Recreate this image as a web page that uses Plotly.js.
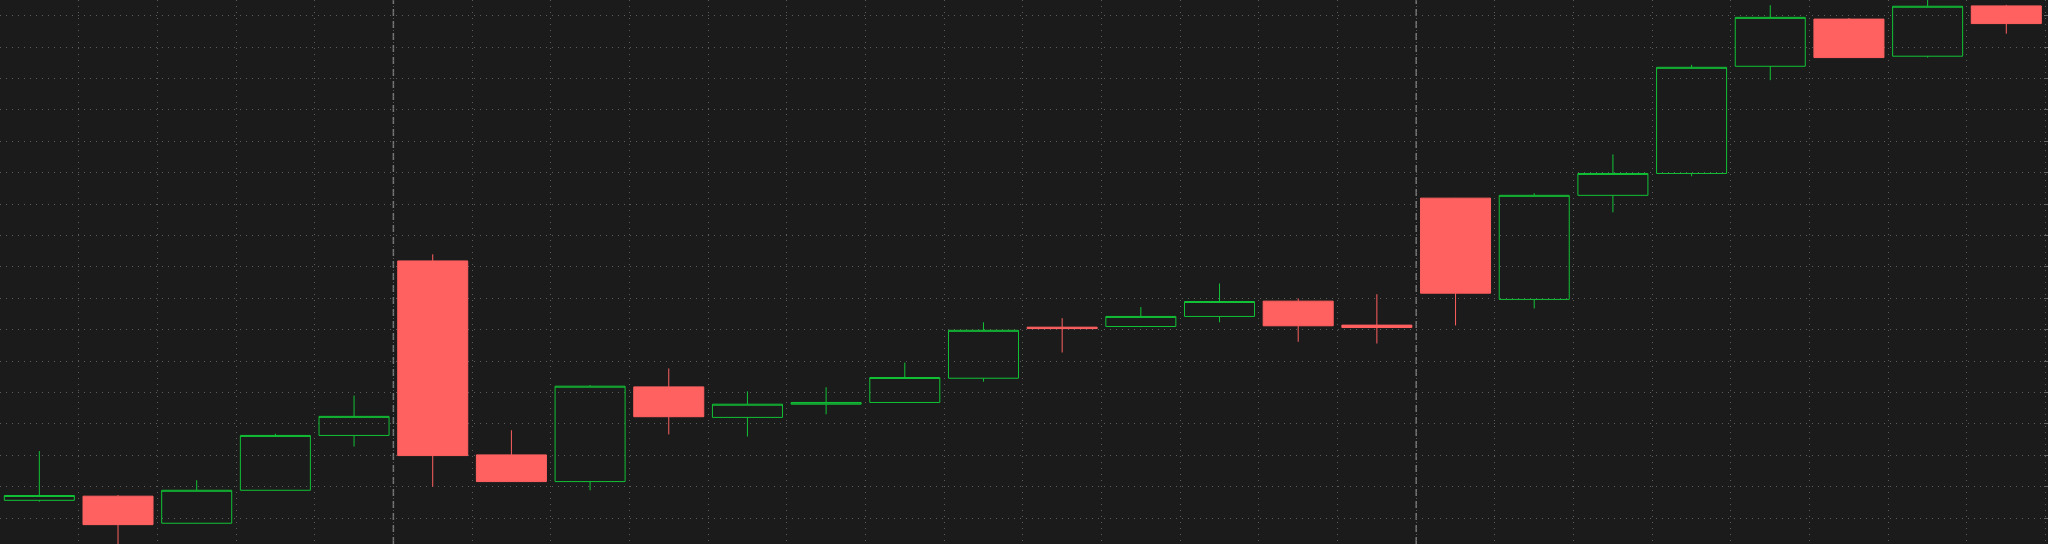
<!DOCTYPE html>
<html>
<head>
<meta charset="utf-8">
<script src="https://cdn.plot.ly/plotly-3.0.1.min.js"></script>
<style>
  html, body { margin: 0; padding: 0; background: #1b1b1b; }
  #chart { width: 2048px; height: 544px; }
</style>
</head>
<body>
<div id="chart"></div>
<script>
// Bar index (x category positions)
const barIndex = [0, 1, 2, 3, 4, 5, 6, 7, 8, 9, 10, 11, 12, 13, 14, 15, 16, 17, 18, 19, 20, 21, 22, 23, 24, 25];

// OHLC series
const openVals  = [115.69, 117.01, 108.39, 118.89, 136.35, 191.93, 130.16, 121.66, 151.82, 142.10, 146.30, 146.85, 154.58,
                   170.83, 171.05, 174.25, 179.12, 171.49, 211.93, 179.67, 212.82, 219.78, 253.92, 268.95, 257.13, 273.15];
const highVals  = [131.38, 117.35, 122.10, 136.90, 149.06, 194.03, 138.00, 152.37, 157.68, 150.39, 151.71, 159.56, 172.38,
                   173.70, 177.24, 184.75, 180.00, 181.33, 212.00, 213.48, 225.86, 254.37, 273.37, 269.28, 275.50, 273.48];
const lowVals   = [115.25, 100.00, 108.30, 118.80, 132.82, 120.00, 121.60, 118.89, 136.68, 136.02, 143.09, 146.70, 153.48,
                   162.76, 170.83, 172.38, 166.19, 165.63, 171.38, 176.80, 207.40, 218.90, 249.50, 256.60, 256.69, 264.31];
const closeVals = [117.23, 107.95, 118.89, 136.35, 142.43, 129.94, 121.66, 152.04, 142.32, 146.30, 146.85, 154.81, 169.83,
                   170.39, 174.25, 179.01, 171.27, 170.72, 181.66, 212.82, 219.78, 253.59, 269.50, 256.69, 273.04, 267.52];

// Session separators come after these bar indices
const sessionBreakAfter = [4, 17];

const UP = '#12c236';
const DOWN = '#ff6060';
const BG = '#1b1b1b';
const GRID = '#5c5c5c';

const trace = {
  type: 'candlestick',
  x: barIndex,
  open: openVals,
  high: highVals,
  low: lowVals,
  close: closeVals,
  increasing: { line: { color: UP, width: 1 }, fillcolor: 'rgba(0,0,0,0)' },
  decreasing: { line: { color: DOWN, width: 1 }, fillcolor: DOWN },
  whiskerwidth: 0,
  hoverinfo: 'none',
  showlegend: false,
  xaxis: 'x',
  yaxis: 'y'
};

const shapes = sessionBreakAfter.map(i => ({
  type: 'line',
  xref: 'x', yref: 'paper',
  x0: i + 0.5, x1: i + 0.5, y0: 0, y1: 1,
  line: { color: '#767676', width: 1.5, dash: '7px,5px' },
  layer: 'below'
}));

const layout = {
  width: 2048,
  height: 544,
  margin: { l: 0, r: 0, t: 0, b: 0, pad: 0 },
  paper_bgcolor: BG,
  plot_bgcolor: BG,
  showlegend: false,
  boxgap: 0.11,
  boxgroupgap: 0,
  xaxis: {
    range: [-0.5, 25.53],
    tickmode: 'linear',
    tick0: -0.5,
    dtick: 1,
    showgrid: true,
    gridcolor: GRID,
    gridwidth: 1,
    griddash: '1px,5px',
    zeroline: false,
    showticklabels: false,
    ticks: '',
    showline: false,
    rangeslider: { visible: false },
    fixedrange: true
  },
  yaxis: {
    range: [101.78, 275.03],
    side: 'right',
    tickmode: 'linear',
    tick0: 110,
    dtick: 10,
    showgrid: true,
    gridcolor: GRID,
    gridwidth: 1,
    griddash: '1px,5px',
    zeroline: false,
    showticklabels: false,
    ticks: 'inside',
    ticklen: 4,
    tickwidth: 1,
    tickcolor: '#666666',
    showline: true,
    linecolor: '#555555',
    linewidth: 2,
    fixedrange: true
  },
  yaxis2: {
    overlaying: 'y',
    anchor: 'x',
    side: 'left',
    matches: 'y',
    range: [101.78, 275.03],
    tickmode: 'linear',
    tick0: 110,
    dtick: 10,
    showgrid: false,
    zeroline: false,
    showticklabels: false,
    ticks: 'inside',
    ticklen: 3,
    tickwidth: 1,
    tickcolor: '#666666',
    minor: { ticks: 'inside', ticklen: 2, dtick: 2, tick0: 110, tickcolor: '#5a5a5a', showgrid: false },
    showline: false,
    fixedrange: true
  },
  shapes: shapes
};

Plotly.newPlot('chart', [trace], layout, { staticPlot: true, displayModeBar: false });
</script>
</body>
</html>
